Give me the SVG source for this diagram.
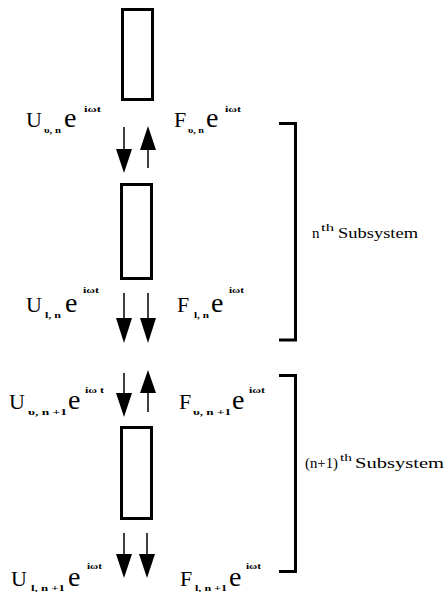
<svg xmlns="http://www.w3.org/2000/svg" width="446" height="592" viewBox="0 0 446 592">
<defs>
<style>
.box{fill:none;stroke:#000;stroke-width:3}
.br{fill:none;stroke:#000;stroke-width:3}
.ln{stroke:#000;stroke-width:1.5}
.hd{fill:#000}
text{font-family:"Liberation Serif","Times New Roman",serif;fill:#000}
.big{font-size:22px}
.e{font-size:28px}
.sub{font-size:9px;font-weight:bold}
.sup{font-size:8px;font-weight:bold}
.lab{font-size:15px}
.lsup{font-size:10px}
</style>
</defs>
<rect width="446" height="592" fill="#fff"/>
<g id="mass1"><rect class="box" x="122.5" y="9.5" width="30" height="90"/></g>
<g id="mass2"><rect class="box" x="121.5" y="184.5" width="30" height="94"/></g>
<g id="mass3"><rect class="box" x="121.5" y="427.5" width="30" height="91"/></g>
<g id="connectors">
<line class="ln" x1="124" y1="127" x2="124" y2="150"/>
<polygon class="hd" points="116,149 132,149 124,173"/>
<line class="ln" x1="148" y1="148" x2="148" y2="168"/>
<polygon class="hd" points="140,150 156,150 148,126"/>
<line class="ln" x1="124" y1="293" x2="124" y2="320"/>
<polygon class="hd" points="116,318 132,318 124,343"/>
<line class="ln" x1="148" y1="293" x2="148" y2="320"/>
<polygon class="hd" points="140,318 156,318 148,343"/>
<line class="ln" x1="124" y1="373" x2="124" y2="395"/>
<polygon class="hd" points="116,393 132,393 124,417"/>
<line class="ln" x1="148" y1="391" x2="148" y2="412"/>
<polygon class="hd" points="140,393 156,393 148,370"/>
<line class="ln" x1="124" y1="533" x2="124" y2="556"/>
<polygon class="hd" points="116,554 132,554 124,578"/>
<line class="ln" x1="147" y1="533" x2="147" y2="556"/>
<polygon class="hd" points="139,554 155,554 147,578"/>
</g>
<g id="bracket1"><polyline class="br" points="279,123.5 295.5,123.5 295.5,340 279,340"/></g>
<g id="bracket2"><polyline class="br" points="279,375.5 295.5,375.5 295.5,571.5 279,571.5"/></g>
<g id="label-u-un">
<text class="big" x="26" y="127">U</text>
<text class="sub" x="44" y="133" textLength="17" lengthAdjust="spacingAndGlyphs">υ, n</text>
<text class="e" x="64" y="127">e</text>
<text class="sup" x="84" y="112" textLength="17" lengthAdjust="spacingAndGlyphs">iωt</text>
</g>
<g id="label-f-un">
<text class="big" x="174" y="127">F</text>
<text class="sub" x="188" y="133" textLength="16" lengthAdjust="spacingAndGlyphs">υ, n</text>
<text class="e" x="206" y="127">e</text>
<text class="sup" x="225" y="112" textLength="16" lengthAdjust="spacingAndGlyphs">iωt</text>
</g>
<g id="label-u-ln">
<text class="big" x="26" y="312">U</text>
<text class="sub" x="45" y="318" textLength="16" lengthAdjust="spacingAndGlyphs">l, n</text>
<text class="e" x="65" y="312">e</text>
<text class="sup" x="83" y="293" textLength="16" lengthAdjust="spacingAndGlyphs">iωt</text>
</g>
<g id="label-f-ln">
<text class="big" x="177" y="312">F</text>
<text class="sub" x="194" y="318" textLength="15" lengthAdjust="spacingAndGlyphs">l, n</text>
<text class="e" x="211" y="312">e</text>
<text class="sup" x="229" y="293" textLength="15" lengthAdjust="spacingAndGlyphs">iωt</text>
</g>
<g id="label-u-un1">
<text class="big" x="9" y="409">U</text>
<text class="sub" x="28" y="415" textLength="39" lengthAdjust="spacingAndGlyphs">υ, n +1</text>
<text class="e" x="68" y="409">e</text>
<text class="sup" x="85" y="393" textLength="19" lengthAdjust="spacingAndGlyphs">iω t</text>
</g>
<g id="label-f-un1">
<text class="big" x="179" y="409">F</text>
<text class="sub" x="193" y="415" textLength="38" lengthAdjust="spacingAndGlyphs">υ, n +1</text>
<text class="e" x="232" y="409">e</text>
<text class="sup" x="249" y="393" textLength="16" lengthAdjust="spacingAndGlyphs">iωt</text>
</g>
<g id="label-u-ln1">
<text class="big" x="11" y="586">U</text>
<text class="sub" x="31" y="591" textLength="34" lengthAdjust="spacingAndGlyphs">l, n +1</text>
<text class="e" x="68" y="586">e</text>
<text class="sup" x="87" y="569" textLength="15" lengthAdjust="spacingAndGlyphs">iωt</text>
</g>
<g id="label-f-ln1">
<text class="big" x="180" y="586">F</text>
<text class="sub" x="195" y="591" textLength="32" lengthAdjust="spacingAndGlyphs">l, n +1</text>
<text class="e" x="229" y="586">e</text>
<text class="sup" x="246" y="569" textLength="15" lengthAdjust="spacingAndGlyphs">iωt</text>
</g>
<g id="label-nth">
<text class="lab" x="312" y="238">n</text>
<text class="lsup" x="321" y="231" textLength="13" lengthAdjust="spacingAndGlyphs">th</text>
<text class="lab" x="338" y="238" textLength="80" lengthAdjust="spacingAndGlyphs">Subsystem</text>
</g>
<g id="label-n1th">
<text class="lab" x="305" y="468" textLength="33" lengthAdjust="spacingAndGlyphs">(n+1)</text>
<text class="lsup" x="340" y="461" textLength="12" lengthAdjust="spacingAndGlyphs">th</text>
<text class="lab" x="355" y="468" textLength="89" lengthAdjust="spacingAndGlyphs">Subsystem</text>
</g>
</svg>
